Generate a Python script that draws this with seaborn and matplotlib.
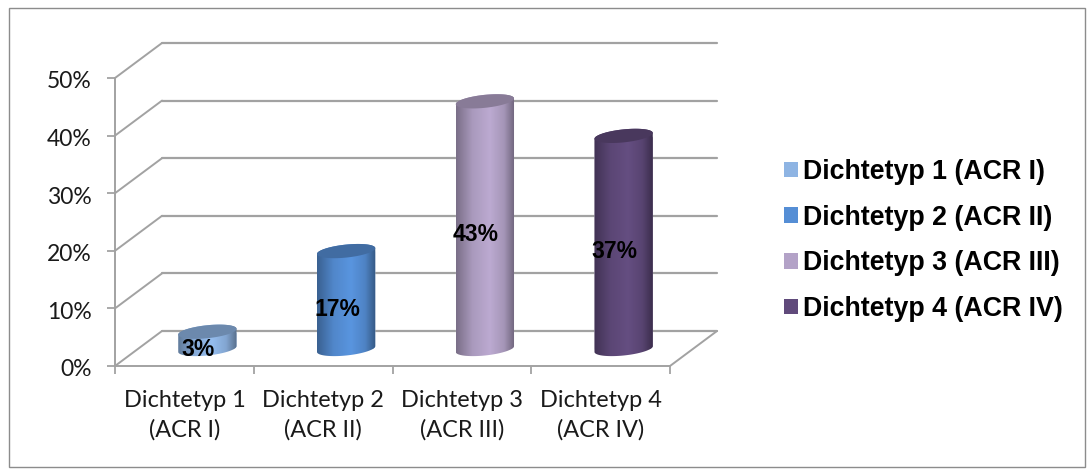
import numpy as np
import pandas as pd
import matplotlib
matplotlib.use("Agg")
import matplotlib.pyplot as plt
import seaborn as sns
from matplotlib.colors import LinearSegmentedColormap, to_rgb
from matplotlib.patches import ConnectionPatch, Patch, PathPatch, Rectangle
from matplotlib.path import Path
from matplotlib.transforms import IdentityTransform, ScaledTranslation

# Breast density distribution by ACR category
tick_labels = ["Dichtetyp 1\n(ACR I)", "Dichtetyp 2\n(ACR II)",
               "Dichtetyp 3\n(ACR III)", "Dichtetyp 4\n(ACR IV)"]
legend_labels = ["Dichtetyp 1 (ACR I)", "Dichtetyp 2 (ACR II)",
                 "Dichtetyp 3 (ACR III)", "Dichtetyp 4 (ACR IV)"]
shares = [3, 17, 43, 37]
bar_colors = ["#8EB4E3", "#558ED5", "#B3A2C7", "#604A7B"]
y_ticks = [0, 10, 20, 30, 40, 50]

W, H = 1090, 470
GRID = "#a2a2a2"

sns.set_theme(style="white")
plt.rcParams["font.family"] = ["Lato", "DejaVu Sans"]

fig = plt.figure(figsize=(W / 100, H / 100), dpi=100, facecolor="white")


def plane(dx, dy):
    # Three parallel planes give the pseudo-3D box: front, mid (bars), back wall
    left, right, top, bottom = 115 + dx, 670 + dx, 78 + dy, 366 + dy
    ax = fig.add_axes([left / W, 1 - bottom / H, (right - left) / W, (bottom - top) / H])
    ax.set_xlim(-0.5, 3.5)
    ax.set_ylim(0, 50)
    ax.patch.set_alpha(0)
    return ax


back = plane(47, -35)
front = plane(0, 0)
mid = plane(23, -17)

fig.add_artist(Rectangle((8.5 / W, 1 - 466.5 / H), 1076 / W, 458.5 / H, fill=False,
                         edgecolor="#8c8c8c", linewidth=1.0, transform=fig.transFigure))

# Back wall gridlines
back.set_yticks(y_ticks)
back.set_xticks([])
back.tick_params(left=False, labelleft=False)
back.grid(axis="y", color=GRID, linewidth=1.6)
for line in back.get_ygridlines():
    line.set_clip_on(False)
sns.despine(ax=back, left=True, bottom=True)

# Front axes with ticks and labels
front.set_yticks(y_ticks)
front.set_yticklabels([f"{t}%" for t in y_ticks], fontsize=16.5, color="#1a1a1a")
front.set_xticks(range(4))
front.set_xticklabels(tick_labels, fontsize=16.9, color="#1a1a1a", linespacing=1.5)
front.set_xticks(np.arange(-0.5, 4), minor=True)
front.tick_params(axis="y", left=True, length=6, width=1.3, color=GRID, pad=11)
front.tick_params(axis="x", which="major", length=0, pad=17)
front.tick_params(axis="x", which="minor", bottom=True, length=6, width=1.3, color=GRID)
sns.despine(ax=front)
for side in ("left", "bottom"):
    front.spines[side].set_color(GRID)
    front.spines[side].set_linewidth(1.4)
nudge = ScaledTranslation(0, -2 / 100, fig.dpi_scale_trans)
for label in front.get_yticklabels():
    label.set_transform(label.get_transform() + nudge)

# Side wall and floor edges joining the front plane to the back wall
for t in y_ticks:
    fig.add_artist(ConnectionPatch((-0.5, t), (-0.5, t), "data", "data", axesA=front, axesB=back,
                                   color=GRID, linewidth=1.4))
fig.add_artist(ConnectionPatch((3.5, 0), (3.5, 0), "data", "data", axesA=front, axesB=back,
                               color=GRID, linewidth=1.4))

# Bars
frame = pd.DataFrame({"type": legend_labels, "share": shares})
sns.barplot(data=frame, x="type", y="share", hue="type", palette=bar_colors, dodge=False,
            width=0.42, legend=False, saturation=1, ax=mid)
mid.set_xlim(-0.5, 3.5)
mid.set_ylim(0, 50)
mid.axis("off")


def ellipse_arc(cx, cy, a, t0, t1):
    # Flattened circle with a slight upward shear to the right
    t = np.linspace(t0, t1, 60)
    return np.column_stack([cx + a * np.cos(t), cy + 6.5 * np.sin(t) + 0.1 * a * np.cos(t)])


identity = IdentityTransform()
for i, (bar, color) in enumerate(zip(mid.patches, bar_colors)):
    x0, w, h = bar.get_x(), bar.get_width(), bar.get_height()
    (px0, py0), (px1, py1) = mid.transData.transform([(x0, 0), (x0 + w, h)])
    cx, a = (px0 + px1) / 2, (px1 - px0) / 2
    body = np.vstack([ellipse_arc(cx, py0, a, np.pi, 2 * np.pi),
                      ellipse_arc(cx, py1, a, 0, np.pi)])
    outline = Path(np.vstack([body, body[:1]]), closed=True)
    bar.set_clip_box(fig.bbox)
    bar.set_clip_path(outline, identity)

    base = np.array(to_rgb(color))
    glow = np.minimum(base * 1.05, 1)
    ramp = LinearSegmentedColormap.from_list(
        f"cyl{i}", [(0, base * 0.68), (0.28, base * 0.95), (0.58, glow), (0.82, base * 0.92), (1, base * 0.62)])
    shade = mid.imshow(np.linspace(0, 1, 128)[None, :], cmap=ramp, aspect="auto",
                       extent=(x0, x0 + w, -3, h + 3), zorder=3, interpolation="bilinear")
    shade.set_clip_box(fig.bbox)
    shade.set_clip_path(outline, identity)

    lid = Path(np.vstack([ellipse_arc(cx, py1, a, 0, 2 * np.pi)]), closed=True)
    mid.add_patch(PathPatch(lid, transform=identity, facecolor=base * 0.76, edgecolor="none",
                            clip_on=False, zorder=4))
    mid.annotate(f"{shares[i]}%", (i, h / 2), xytext=(-6.5, -6.5), textcoords="offset points",
                 ha="center", va="center", family="Liberation Sans", fontsize=16.5, fontweight="bold",
                 color="black", annotation_clip=False, zorder=5)
mid.set_xlim(-0.5, 3.5)
mid.set_ylim(0, 50)

# Legend
handles = [Patch(facecolor=c, edgecolor="none") for c in bar_colors]
fig.legend(handles, legend_labels, loc="center left", bbox_to_anchor=(784 / W, 1 - 240.5 / H),
           bbox_transform=fig.transFigure, frameon=False, borderpad=0, borderaxespad=0,
           handlelength=0.52, handleheight=0.52, handletextpad=0.19, labelspacing=0.74,
           prop={"family": "Liberation Sans", "weight": "bold", "size": 19.25}, labelcolor="black")

fig.savefig("out.png", dpi=100)
